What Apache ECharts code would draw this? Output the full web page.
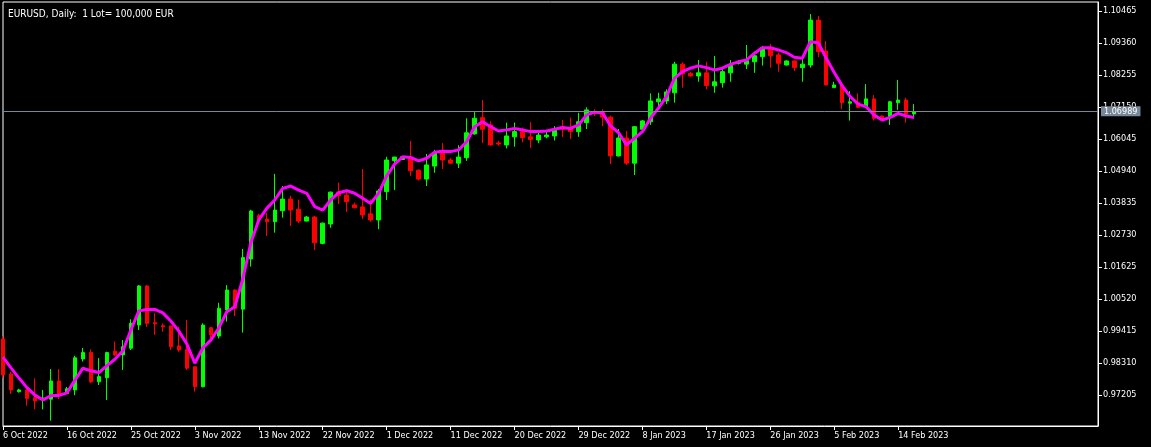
<!DOCTYPE html>
<html>
<head>
<meta charset="utf-8">
<script src="https://cdn.jsdelivr.net/npm/echarts@6/dist/echarts.min.js"></script>
<style>
html,body{margin:0;padding:0;background:#000;}
#chart{width:1151px;height:447px;}
</style>
</head>
<body>
<div id="chart"></div>
<script>
const titleText = 'EURUSD, Daily:  1 Lot= 100,000 EUR';

const dates = [
'2022-10-06','2022-10-07','2022-10-09','2022-10-10','2022-10-11','2022-10-12','2022-10-13','2022-10-14','2022-10-16','2022-10-17',
'2022-10-18','2022-10-19','2022-10-20','2022-10-21','2022-10-23','2022-10-24','2022-10-25','2022-10-26','2022-10-27','2022-10-28',
'2022-10-30','2022-10-31','2022-11-01','2022-11-02','2022-11-03','2022-11-04','2022-11-06','2022-11-07','2022-11-08','2022-11-09',
'2022-11-10','2022-11-11','2022-11-13','2022-11-14','2022-11-15','2022-11-16','2022-11-17','2022-11-18','2022-11-20','2022-11-21',
'2022-11-22','2022-11-23','2022-11-24','2022-11-25','2022-11-27','2022-11-28','2022-11-29','2022-11-30','2022-12-01','2022-12-02',
'2022-12-04','2022-12-05','2022-12-06','2022-12-07','2022-12-08','2022-12-09','2022-12-11','2022-12-12','2022-12-13','2022-12-14',
'2022-12-15','2022-12-16','2022-12-18','2022-12-19','2022-12-20','2022-12-21','2022-12-22','2022-12-23','2022-12-25','2022-12-26',
'2022-12-27','2022-12-28','2022-12-29','2022-12-30','2023-01-01','2023-01-02','2023-01-03','2023-01-04','2023-01-05','2023-01-06',
'2023-01-08','2023-01-09','2023-01-10','2023-01-11','2023-01-12','2023-01-13','2023-01-15','2023-01-16','2023-01-17','2023-01-18',
'2023-01-19','2023-01-20','2023-01-22','2023-01-23','2023-01-24','2023-01-25','2023-01-26','2023-01-27','2023-01-29','2023-01-30',
'2023-01-31','2023-02-01','2023-02-02','2023-02-03','2023-02-05','2023-02-06','2023-02-07','2023-02-08','2023-02-09','2023-02-10',
'2023-02-12','2023-02-13','2023-02-14','2023-02-15','2023-02-16'
];

const opens = [
0.9914,0.9793,0.9732,0.9738,0.9711,0.9707,0.9706,0.9769,0.9726,0.9738,
0.9845,0.9867,0.9766,0.9780,0.9872,0.9859,0.9882,0.9962,1.0097,0.9970,
0.9960,0.9959,0.9890,0.9878,0.9818,0.9749,0.9953,0.9924,1.0014,1.0083,
1.0017,1.0190,1.0340,1.0328,1.0319,1.0357,1.0397,1.0362,1.0321,1.0335,
1.0244,1.0311,1.0421,1.0410,1.0377,1.0370,1.0346,1.0325,1.0423,1.0530,
1.0534,1.0538,1.0497,1.0466,1.0511,1.0557,1.0532,1.0521,1.0540,1.0622,
1.0678,1.0653,1.0591,1.0584,1.0612,1.0630,1.0612,1.0601,1.0612,1.0615,
1.0647,1.0641,1.0630,1.0661,1.0699,1.0697,1.0680,1.0546,1.0608,1.0521,
1.0638,1.0664,1.0733,1.0736,1.0764,1.0863,1.0831,1.0822,1.0833,1.0788,
1.0799,1.0833,1.0866,1.0863,1.0871,1.0889,1.0918,1.0895,1.0860,1.0874,
1.0851,1.0860,1.1015,1.0908,1.0782,1.0791,1.0728,1.0730,1.0716,1.0743,
1.0684,1.0681,1.0730,1.0739,1.0691
];
const highs = [
0.9924,0.9801,0.9742,0.9740,0.9778,0.9738,0.9810,0.9810,0.9748,0.9856,
0.9883,0.9878,0.9848,0.9870,0.9905,0.9910,0.9982,1.0100,1.0100,1.0003,
0.9968,0.9960,0.9956,0.9979,0.9820,0.9968,0.9955,1.0039,1.0100,1.0085,
1.0225,1.0360,1.0346,1.0349,1.0484,1.0442,1.0408,1.0395,1.0339,1.0339,
1.0316,1.0423,1.0454,1.0431,1.0385,1.0501,1.0396,1.0432,1.0543,1.0543,
1.0545,1.0598,1.0499,1.0553,1.0567,1.0590,1.0539,1.0583,1.0676,1.0697,
1.0739,1.0666,1.0598,1.0661,1.0661,1.0644,1.0663,1.0636,1.0630,1.0649,
1.0670,1.0678,1.0695,1.0714,1.0707,1.0707,1.0685,1.0639,1.0632,1.0649,
1.0670,1.0762,1.0764,1.0776,1.0871,1.0869,1.0836,1.0877,1.0871,1.0891,
1.0854,1.0877,1.0877,1.0929,1.0906,1.0926,1.0933,1.0903,1.0876,1.0876,
1.0880,1.1036,1.1029,1.0943,1.0802,1.0792,1.0770,1.0762,1.0794,1.0756,
1.0686,1.0736,1.0808,1.0747,1.0725
];
const lows = [
0.9779,0.9724,0.9729,0.9683,0.9671,0.9671,0.9632,0.9706,0.9726,0.9720,
0.9836,0.9761,0.9755,0.9703,0.9856,0.9807,0.9876,0.9945,0.9956,0.9928,
0.9939,0.9876,0.9870,0.9807,0.9732,0.9747,0.9916,0.9916,0.9974,0.9993,
0.9936,1.0164,1.0322,1.0270,1.0281,1.0333,1.0304,1.0314,1.0320,1.0221,
1.0241,1.0298,1.0380,1.0353,1.0366,1.0328,1.0319,1.0293,1.0394,1.0428,
1.0532,1.0477,1.0461,1.0442,1.0488,1.0501,1.0520,1.0504,1.0529,1.0620,
1.0590,1.0582,1.0581,1.0572,1.0578,1.0593,1.0574,1.0590,1.0607,1.0599,
1.0612,1.0604,1.0612,1.0639,1.0684,1.0649,1.0518,1.0544,1.0515,1.0480,
1.0636,1.0653,1.0714,1.0725,1.0730,1.0782,1.0820,1.0802,1.0776,1.0764,
1.0782,1.0802,1.0862,1.0846,1.0833,1.0858,1.0851,1.0837,1.0858,1.0839,
1.0802,1.0851,1.0887,1.0790,1.0781,1.0708,1.0668,1.0711,1.0714,1.0668,
1.0672,1.0653,1.0705,1.0661,1.0681
];
const closes = [
0.9790,0.9738,0.9738,0.9709,0.9700,0.9710,0.9769,0.9720,0.9742,0.9849,
0.9867,0.9766,0.9784,0.9867,0.9859,0.9887,0.9968,1.0097,0.9968,0.9966,
0.9956,0.9887,0.9876,0.9813,0.9749,0.9962,0.9928,1.0020,1.0083,1.0020,
1.0195,1.0356,1.0325,1.0319,1.0359,1.0397,1.0359,1.0321,1.0335,1.0246,
1.0314,1.0421,1.0409,1.0388,1.0367,1.0342,1.0325,1.0425,1.0532,1.0542,
1.0543,1.0495,1.0466,1.0515,1.0557,1.0532,1.0521,1.0542,1.0626,1.0676,
1.0638,1.0584,1.0587,1.0615,1.0630,1.0609,1.0603,1.0618,1.0618,1.0636,
1.0638,1.0630,1.0664,1.0705,1.0693,1.0680,1.0546,1.0608,1.0521,1.0647,
1.0667,1.0736,1.0743,1.0767,1.0863,1.0829,1.0822,1.0833,1.0789,1.0802,
1.0837,1.0858,1.0871,1.0875,1.0892,1.0920,1.0892,1.0866,1.0874,1.0851,
1.0863,1.1015,1.0906,1.0791,1.0791,1.0730,1.0733,1.0714,1.0743,1.0676,
1.0673,1.0733,1.0739,1.0691,1.06989
];
const maValues = [
0.9851,0.9814,0.9779,0.9746,0.9720,0.9703,0.9719,0.9719,0.9728,0.9772,
0.9813,0.9804,0.9798,0.9822,0.9844,0.9873,0.9945,1.0011,1.0016,1.0016,
1.0004,0.9976,0.9941,0.9897,0.9830,0.9883,0.9910,0.9952,1.0008,1.0025,
1.0121,1.0245,1.0325,1.0365,1.0394,1.0434,1.0442,1.0428,1.0417,1.0371,
1.0359,1.0394,1.0419,1.0426,1.0417,1.0400,1.0382,1.0417,1.0477,1.0518,
1.0543,1.0541,1.0529,1.0538,1.0559,1.0562,1.0561,1.0567,1.0595,1.0647,
1.0664,1.0647,1.0632,1.0636,1.0641,1.0636,1.0630,1.0630,1.0632,1.0638,
1.0644,1.0641,1.0653,1.0687,1.0697,1.0695,1.0650,1.0627,1.0584,1.0607,
1.0630,1.0676,1.0711,1.0751,1.0814,1.0837,1.0849,1.0857,1.0851,1.0843,
1.0849,1.0862,1.0871,1.0877,1.0900,1.0920,1.0920,1.0912,1.0903,1.0887,
1.0883,1.0940,1.0937,1.0883,1.0834,1.0788,1.0751,1.0725,1.0716,1.0687,
1.0670,1.0679,1.0693,1.0684,1.0679
];

const yTicks = [0.97205,0.98310,0.99415,1.00520,1.01625,1.02730,1.03835,1.04940,1.06045,1.07150,1.08255,1.09360,1.10465];
const monthNames = ['Jan','Feb','Mar','Apr','May','Jun','Jul','Aug','Sep','Oct','Nov','Dec'];
const xLabelEvery = 8;
const emptySlots = 23;

const FONT = '"DejaVu Sans Condensed", "DejaVu Sans", sans-serif';
const categories = dates.concat(new Array(emptySlots).fill(''));
const candleData = dates.map((d, i) => [opens[i], closes[i], lows[i], highs[i]]);
const lastClose = closes[closes.length - 1];

function fmtDate(s) {
  if (!s) return '';
  const p = s.split('-');
  return parseInt(p[2], 10) + ' ' + monthNames[parseInt(p[1], 10) - 1] + ' ' + p[0];
}
const showIdx = (idx) => idx % xLabelEvery === 0 && idx < dates.length;

const chart = echarts.init(document.getElementById('chart'), null, {renderer: 'canvas'});
chart.setOption({
  backgroundColor: '#000000',
  animation: false,
  title: {
    text: titleText, left: 3, top: 4,
    textStyle: {color: '#ffffff', fontSize: 10, fontWeight: 'normal', fontFamily: FONT}
  },
  grid: {left: 2, top: 2, right: 53, bottom: 21, show: true, borderColor: '#ffffff', borderWidth: 1, backgroundColor: 'transparent'},
  xAxis: {
    type: 'category', data: categories, boundaryGap: false,
    axisLine: {show: true, lineStyle: {color: '#ffffff', width: 1}},
    axisTick: {show: true, length: 4, interval: (idx) => showIdx(idx), lineStyle: {color: '#ffffff'}},
    axisLabel: {
      interval: (idx) => showIdx(idx), formatter: (v) => fmtDate(v),
      color: '#ffffff', fontSize: 9, fontFamily: FONT, align: 'left', margin: 5, hideOverlap: false
    },
    splitLine: {show: false}
  },
  yAxis: {
    type: 'value', position: 'right', scale: true,
    min: 0.961345, max: 1.107757,
    axisLine: {show: true, lineStyle: {color: '#ffffff', width: 1}},
    axisTick: {show: true, length: 4, customValues: yTicks, lineStyle: {color: '#ffffff'}},
    axisLabel: {customValues: yTicks, formatter: (v) => v.toFixed(5), color: '#ffffff', fontSize: 9, fontFamily: FONT, margin: 5},
    splitLine: {show: false}
  },
  series: [
    {
      type: 'candlestick', data: candleData, barWidth: 4, clip: true,
      itemStyle: {color: '#00ff00', color0: '#ff0000', borderColor: '#00ff00', borderColor0: '#ff0000', borderWidth: 1},
      markLine: {
        silent: true, symbol: ['none', 'none'], animation: false,
        lineStyle: {color: '#778899', width: 1, type: 'solid'},
        label: {
          show: true, position: 'end', distance: 3, formatter: () => lastClose.toFixed(5),
          color: '#ffffff', backgroundColor: '#778899', padding: [1, 3, 0, 3], fontSize: 9, fontFamily: FONT
        },
        data: [{yAxis: lastClose}]
      },
      z: 3
    },
    {
      type: 'line', data: maValues, symbol: 'none', clip: true,
      lineStyle: {color: '#ff00ff', width: 3}, z: 4
    }
  ]
});
</script>
</body>
</html>
